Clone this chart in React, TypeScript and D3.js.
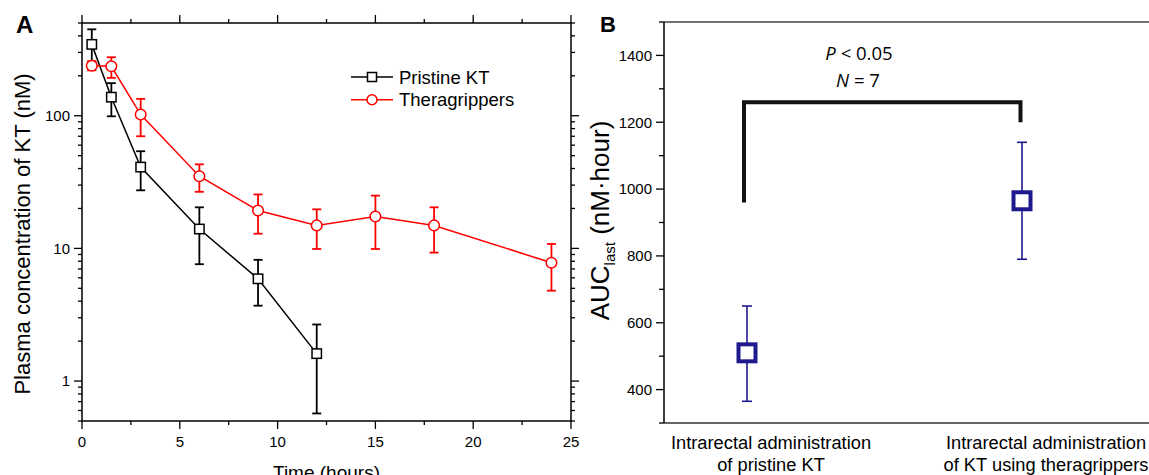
import React, { useEffect, useRef } from "react";
import * as d3 from "d3";

// panel A: plasma concentration (nM)
const pristineTimes = [0.5, 1.5, 3, 6, 9, 12];
const pristineMean = [345, 138, 41, 14, 5.9, 1.61];
const pristineUpper = [448, 176, 54, 20.4, 8.2, 2.67];
const pristineLower = [253, 99, 27.4, 7.6, 3.7, 0.57];

const theraTimes = [0.5, 1.5, 3, 6, 9, 12, 15, 18, 24];
const theraMean = [238, 236, 102, 35, 19.3, 14.9, 17.4, 14.9, 7.8];
const theraUpper = [258, 276, 134, 43, 25.5, 19.7, 25, 20.4, 10.8];
const theraLower = [220, 193, 70, 26.7, 12.9, 9.9, 9.9, 9.3, 4.8];

const legendLabels = ["Pristine KT", "Theragrippers"];
const xTicksA = [0, 5, 10, 15, 20, 25];
const yTicksA = [1, 10, 100];

// panel B: AUC last
const groupLine1 = ["Intrarectal administration", "Intrarectal administration"];
const groupLine2 = ["of pristine KT", "of KT using theragrippers"];
const aucMean = [510, 965];
const aucUpper = [650, 1140];
const aucLower = [365, 790];
const yTicksB = [400, 600, 800, 1000, 1200, 1400];
const bracketTop = 1260;
const bracketEnds = [960, 1200];

const A = { LEFT: 82, RIGHT: 571, TOP: 23, BOTTOM: 421 };
const B = { LEFT: 664, RIGHT: 1160, TOP: 22, BOTTOM: 423 };
const FONT = "'Liberation Sans', Arial, sans-serif";
const RED = "#ff0000";
const NAVY = "#1f1a8c";

export default function App() {
  const ref = useRef<SVGSVGElement>(null);

  useEffect(() => {
    const svg = d3.select(ref.current);
    svg.selectAll("*").remove();

    // ---------- panel A ----------
    const x = d3.scaleLinear().domain([0, 25]).range([A.LEFT, A.RIGHT]);
    const y = d3.scaleLog().domain([0.5, 500]).range([A.BOTTOM, A.TOP]);

    const gA = svg.append("g");
    gA.append("rect")
      .attr("x", A.LEFT).attr("y", A.TOP)
      .attr("width", A.RIGHT - A.LEFT).attr("height", A.BOTTOM - A.TOP)
      .attr("fill", "none").attr("stroke", "#000").attr("stroke-width", 1.5);

    const xMinor = d3.range(0, 25.01, 2.5);
    const yMinor: number[] = [];
    [0.1, 1, 10, 100].forEach((d) => {
      for (let k = 2; k <= 9; k++) {
        const v = d * k;
        if (v >= 0.5 && v <= 500) yMinor.push(v);
      }
    });

    const tick = (g, x1, y1, x2, y2) =>
      g.append("line").attr("x1", x1).attr("y1", y1).attr("x2", x2).attr("y2", y2)
        .attr("stroke", "#000").attr("stroke-width", 1.3);

    xMinor.forEach((v) => {
      const major = v % 5 === 0;
      const len = major ? 8 : 4;
      tick(gA, x(v), A.BOTTOM, x(v), A.BOTTOM + len);
      tick(gA, x(v), A.TOP, x(v), A.TOP - len);
    });
    yMinor.concat(yTicksA).forEach((v) => {
      const len = yTicksA.includes(v) ? 8 : 4;
      tick(gA, A.LEFT, y(v), A.LEFT - len, y(v));
      tick(gA, A.RIGHT, y(v), A.RIGHT + len, y(v));
    });

    gA.selectAll(".xl").data(xTicksA).enter().append("text")
      .attr("x", (d) => x(d)).attr("y", 447)
      .attr("text-anchor", "middle").attr("font-family", FONT).attr("font-size", 15)
      .text((d) => d);
    gA.selectAll(".yl").data(yTicksA).enter().append("text")
      .attr("x", A.LEFT - 12).attr("y", (d) => y(d)).attr("dy", "0.35em")
      .attr("text-anchor", "end").attr("font-family", FONT).attr("font-size", 15)
      .text((d) => d);

    gA.append("text")
      .attr("x", (A.LEFT + A.RIGHT) / 2).attr("y", 479)
      .attr("text-anchor", "middle").attr("font-family", FONT).attr("font-size", 19)
      .text("Time (hours)");
    gA.append("text")
      .attr("transform", `translate(30, ${(A.TOP + A.BOTTOM) / 2 + 12}) rotate(-90)`)
      .attr("text-anchor", "middle").attr("font-family", FONT).attr("font-size", 22)
      .text("Plasma concentration of KT (nM)");

    const line = d3.line<number>();
    const drawSeries = (times, mean, upper, lower, color, shape) => {
      const g = gA.append("g");
      g.append("path")
        .attr("d", line(times.map((t, i) => [x(t), y(mean[i])])))
        .attr("fill", "none").attr("stroke", color).attr("stroke-width", 1.5);
      times.forEach((t, i) => {
        const cx = x(t);
        g.append("line").attr("x1", cx).attr("x2", cx)
          .attr("y1", y(upper[i])).attr("y2", y(lower[i]))
          .attr("stroke", color).attr("stroke-width", 1.8);
        [upper[i], lower[i]].forEach((v) =>
          g.append("line").attr("x1", cx - 4.5).attr("x2", cx + 4.5)
            .attr("y1", y(v)).attr("y2", y(v))
            .attr("stroke", color).attr("stroke-width", 1.8));
      });
      times.forEach((t, i) => {
        if (shape === "square") {
          g.append("rect").attr("x", x(t) - 4.7).attr("y", y(mean[i]) - 4.7)
            .attr("width", 9.4).attr("height", 9.4)
            .attr("fill", "#fff").attr("stroke", color).attr("stroke-width", 1.5);
        } else {
          g.append("circle").attr("cx", x(t)).attr("cy", y(mean[i])).attr("r", 5.3)
            .attr("fill", "#fff").attr("stroke", color).attr("stroke-width", 1.5);
        }
      });
    };
    drawSeries(pristineTimes, pristineMean, pristineUpper, pristineLower, "#000", "square");
    drawSeries(theraTimes, theraMean, theraUpper, theraLower, RED, "circle");

    // legend
    const legend = gA.append("g");
    [["#000", "square"], [RED, "circle"]].forEach(([color, shape], i) => {
      const ly = 77 + i * 22.7;
      legend.append("line").attr("x1", 351).attr("x2", 393).attr("y1", ly).attr("y2", ly)
        .attr("stroke", color).attr("stroke-width", 1.5);
      if (shape === "square") {
        legend.append("rect").attr("x", 372 - 4.5).attr("y", ly - 4.5)
          .attr("width", 9).attr("height", 9)
          .attr("fill", "#fff").attr("stroke", color).attr("stroke-width", 1.5);
      } else {
        legend.append("circle").attr("cx", 372).attr("cy", ly).attr("r", 5)
          .attr("fill", "#fff").attr("stroke", color).attr("stroke-width", 1.5);
      }
      legend.append("text").attr("x", 399).attr("y", ly + 6.5)
        .attr("font-family", FONT).attr("font-size", 18.5).text(legendLabels[i]);
    });

    svg.append("text").attr("x", 16).attr("y", 33)
      .attr("font-family", FONT).attr("font-weight", "bold").attr("font-size", 24).text("A");

    // ---------- panel B ----------
    const xb = d3.scaleLinear().domain([0, 1]).range([747, 1022]);
    const yb = d3.scaleLinear().domain([300, 1500]).range([B.BOTTOM, B.TOP]);
    const gB = svg.append("g");

    gB.append("line").attr("x1", B.LEFT).attr("x2", B.RIGHT).attr("y1", B.TOP).attr("y2", B.TOP)
      .attr("stroke", "#444").attr("stroke-width", 1.5);
    gB.append("line").attr("x1", B.LEFT).attr("x2", B.RIGHT).attr("y1", B.BOTTOM).attr("y2", B.BOTTOM)
      .attr("stroke", "#333").attr("stroke-width", 1.5);
    gB.append("line").attr("x1", B.LEFT).attr("x2", B.LEFT).attr("y1", B.TOP).attr("y2", B.BOTTOM)
      .attr("stroke", "#000").attr("stroke-width", 1.5);

    d3.range(300, 1501, 100).forEach((v) => {
      const major = yTicksB.includes(v);
      tick(gB, B.LEFT, yb(v), B.LEFT - (major ? 8 : 5), yb(v));
    });
    gB.selectAll(".ybl").data(yTicksB).enter().append("text")
      .attr("x", B.LEFT - 12).attr("y", (d) => yb(d)).attr("dy", "0.35em")
      .attr("text-anchor", "end").attr("font-family", FONT).attr("font-size", 15)
      .text((d) => d);

    const yLab = gB.append("text")
      .attr("transform", `translate(609, ${(B.TOP + B.BOTTOM) / 2 - 2}) rotate(-90)`)
      .attr("text-anchor", "middle").attr("font-family", FONT).attr("font-size", 26);
    yLab.append("tspan").text("AUC");
    yLab.append("tspan").attr("font-size", 15).attr("dy", 6).text("last");
    yLab.append("tspan").attr("dy", -6).text(" (nM·hour)");

    groupLine1.forEach((t, i) => {
      gB.append("text").attr("x", xb(i) + 24).attr("y", 449)
        .attr("text-anchor", "middle").attr("font-family", FONT).attr("font-size", 18.3).text(t);
      gB.append("text").attr("x", xb(i) + 24).attr("y", 471)
        .attr("text-anchor", "middle").attr("font-family", FONT).attr("font-size", 18.3).text(groupLine2[i]);
    });

    // significance bracket
    gB.append("path")
      .attr("d", d3.line()([
        [xb(0) - 3, yb(bracketEnds[0])],
        [xb(0) - 3, yb(bracketTop)],
        [xb(1) - 1.5, yb(bracketTop)],
        [xb(1) - 1.5, yb(bracketEnds[1])],
      ]))
      .attr("fill", "none").attr("stroke", "#111").attr("stroke-width", 4);

    const stat = gB.append("text").attr("x", 859).attr("y", 60)
      .attr("text-anchor", "middle").attr("font-family", "'Open Sans', sans-serif").attr("font-size", 18.5);
    stat.append("tspan").attr("font-style", "italic").text("P");
    stat.append("tspan").text(" < 0.05");
    const nText = gB.append("text").attr("x", 858).attr("y", 87)
      .attr("text-anchor", "middle").attr("font-family", "'Open Sans', sans-serif").attr("font-size", 18.5);
    nText.append("tspan").attr("font-style", "italic").text("N");
    nText.append("tspan").text(" =  7");

    aucMean.forEach((m, i) => {
      const cx = xb(i);
      gB.append("line").attr("x1", cx).attr("x2", cx)
        .attr("y1", yb(aucUpper[i])).attr("y2", yb(aucLower[i]))
        .attr("stroke", NAVY).attr("stroke-width", 1.6);
      [aucUpper[i], aucLower[i]].forEach((v) =>
        gB.append("line").attr("x1", cx - 5).attr("x2", cx + 5)
          .attr("y1", yb(v)).attr("y2", yb(v))
          .attr("stroke", NAVY).attr("stroke-width", 1.6));
      gB.append("rect").attr("x", cx - 8.5).attr("y", yb(m) - 8.5)
        .attr("width", 17).attr("height", 17)
        .attr("fill", "#fff").attr("stroke", NAVY).attr("stroke-width", 4);
    });

    svg.append("text").attr("x", 600).attr("y", 32)
      .attr("font-family", FONT).attr("font-weight", "bold").attr("font-size", 22).text("B");
  }, []);

  return (
    <svg
      ref={ref}
      width={1149}
      height={475}
      style={{ position: "absolute", left: 0, top: 0, background: "#fff" }}
    />
  );
}
